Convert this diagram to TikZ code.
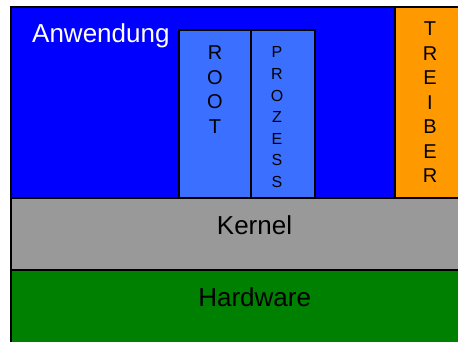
\documentclass[tikz,border=0pt]{standalone}
\usepackage{fontspec}
\setmainfont{Liberation Sans}
\definecolor{appblue}{RGB}{0,0,255}
\definecolor{procblue}{RGB}{59,111,255}
\definecolor{drvorange}{RGB}{255,153,0}
\definecolor{kgray}{RGB}{153,153,153}
\definecolor{hwgreen}{RGB}{0,128,0}
\begin{document}
\begin{tikzpicture}[x=1pt,y=-1pt,
  layer/.style={draw=black,line width=2.2pt},
  bigtxt/.style={inner sep=0pt,font=\fontsize{26}{30}\selectfont},
  vtxt/.style={inner sep=0pt,anchor=north,align=center},
]
\useasboundingbox (0,0) rectangle (458,341);
\clip (0,0) rectangle (458,341);
% layers
\draw[layer,fill=hwgreen] (11,270) rectangle (520,400);
\draw[layer,fill=kgray] (11,198) rectangle (520,270);
\draw[layer,fill=appblue] (11,7) rectangle (395,198);
\draw[layer,fill=drvorange] (395,7) rectangle (520,198);
\draw[layer,fill=procblue] (179,30) rectangle (251,198);
\draw[layer,fill=procblue] (251,30) rectangle (315,198);
% texts
\node[bigtxt,text=white,anchor=base west] (anw) at (32,42.3) {Anwendung};
\node[bigtxt,anchor=base] (kern) at (254.5,234) {Kernel};
\node[bigtxt,anchor=base] (hw) at (254.7,306.7) {Hardware};
\node[vtxt,font=\fontsize{20}{24.5}\selectfont] (root) at (215,46) {R\\O\\O\\T};
\node[vtxt,font=\fontsize{16}{21.6}\selectfont] (proz) at (277,46.7) {P\\R\\O\\Z\\E\\S\\S};
\node[vtxt,font=\fontsize{20}{24.5}\selectfont] (treib) at (430,21.7) {T\\R\\E\\I\\B\\E\\R};
\end{tikzpicture}
\end{document}
